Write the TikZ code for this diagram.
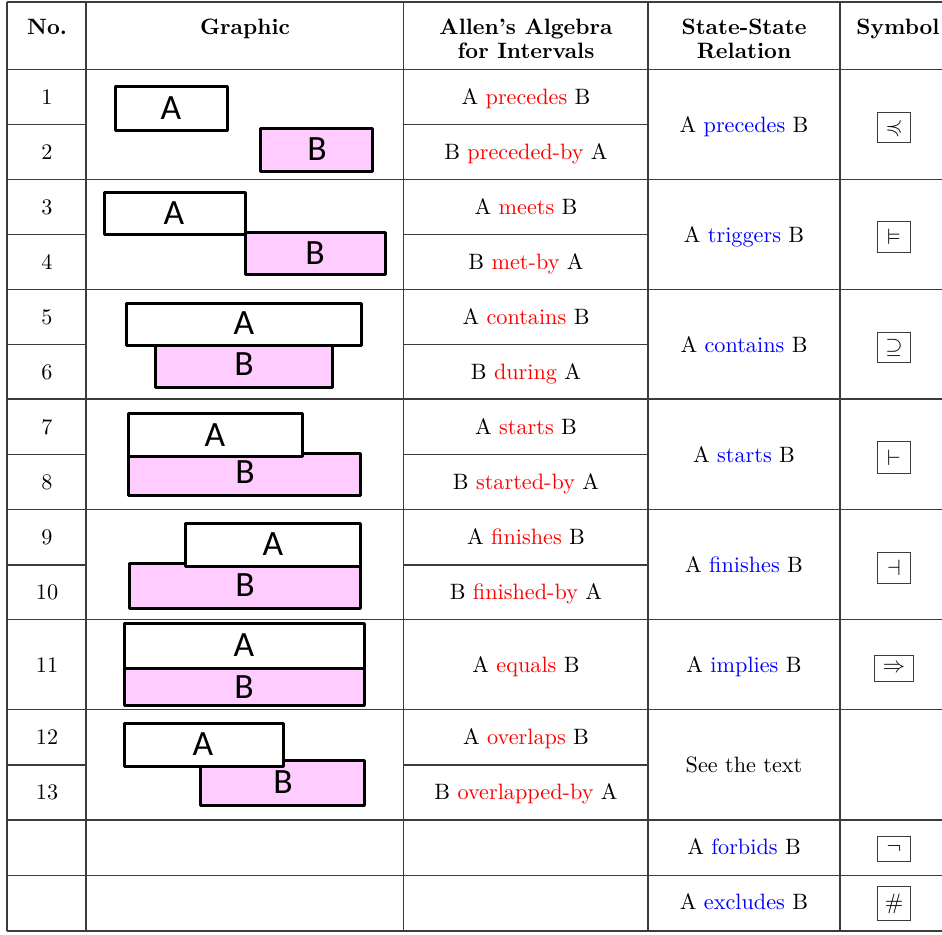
\documentclass[tikz,border=0pt]{standalone}
\usepackage{amssymb}
\usepackage{fontspec}
\usetikzlibrary{fit}
\newfontfamily\carlito{Carlito}
\definecolor{pinkB}{RGB}{255,204,255}
\definecolor{gridc}{RGB}{60,60,60}
\newcommand\rr[1]{\textcolor{red}{#1}}
\newcommand\bb[1]{\textcolor{blue}{#1}}
\begin{document}
\begin{tikzpicture}[x=0.45pt,y=-0.45pt,
  txt/.style={anchor=base, inner sep=0pt},
  hdr/.style={anchor=base, inner sep=0pt, font=\bfseries},
  ibox/.style={draw=black, line width=1.35pt, inner sep=0pt, line join=round},
  boxa/.style={ibox, fill=white},
  boxb/.style={ibox, fill=pinkB},
  lab/.style={inner sep=0pt, font=\carlito\fontsize{16}{16}\selectfont},
  sym/.style={draw=gridc, line width=0.5pt, inner sep=0pt, minimum width=15pt},
  grid/.style={draw=gridc, line width=0.5pt}]
\useasboundingbox (0,0) rectangle (942,934);
\clip (0,0) rectangle (942,934);
\fill[white] (0,0) rectangle (942,934);
% grid
\foreach \xx in {7,86,403.5,648,840} \draw[grid] (\xx,2) -- (\xx,931);
\foreach \yy in {2,69.5,179.5,289.5,399,509.5,619.5,709.5,820,875.5,931} \draw[grid] (7,\yy) -- (950,\yy);
\foreach \yy in {124.5,234.5,344.5,454.5,565,765} {
  \draw[grid] (7,\yy) -- (86,\yy);
  \draw[grid] (403.5,\yy) -- (648,\yy);
}
% header
\node[hdr] (hno) at (47,34.5) {No.};
\node[hdr] (hgr) at (245,34.5) {Graphic};
\node[hdr] (hal1) at (526,34.5) {Allen’s Algebra};
\node[hdr] (hal2) at (526,58.5) {for Intervals};
\node[hdr] (hss1) at (744,34.5) {State-State};
\node[hdr] (hss2) at (744,58.5) {Relation};
\node[hdr] (hsy) at (898,34.5) {Symbol};
% numbers
\node[txt] (n1) at (47,104) {1};
\node[txt] (n2) at (47,159) {2};
\node[txt] (n3) at (47,214) {3};
\node[txt] (n4) at (47,269) {4};
\node[txt] (n5) at (47,324) {5};
\node[txt] (n6) at (47,379) {6};
\node[txt] (n7) at (47,434) {7};
\node[txt] (n8) at (47,489) {8};
\node[txt] (n9) at (47,544) {9};
\node[txt] (n10) at (47,599) {10};
\node[txt] (n11) at (47,672) {11};
\node[txt] (n12) at (47,744) {12};
\node[txt] (n13) at (47,799) {13};
% Allen
\node[txt] (al1) at (526,104) {A \rr{precedes} B};
\node[txt] (al2) at (526,159) {B \rr{preceded-by} A};
\node[txt] (al3) at (526,214) {A \rr{meets} B};
\node[txt] (al4) at (526,269) {B \rr{met-by} A};
\node[txt] (al5) at (526,324) {A \rr{contains} B};
\node[txt] (al6) at (526,379) {B \rr{during} A};
\node[txt] (al7) at (526,434) {A \rr{starts} B};
\node[txt] (al8) at (526,489) {B \rr{started-by} A};
\node[txt] (al9) at (526,544) {A \rr{finishes} B};
\node[txt] (al10) at (526,599) {B \rr{finished-by} A};
\node[txt] (al11) at (526,672) {A \rr{equals} B};
\node[txt] (al12) at (526,744) {A \rr{overlaps} B};
\node[txt] (al13) at (526,799) {B \rr{overlapped-by} A};
% State-state
\node[txt] (ss1) at (744,132) {A \bb{precedes} B};
\node[txt] (ss2) at (744,242) {A \bb{triggers} B};
\node[txt] (ss3) at (744,352) {A \bb{contains} B};
\node[txt] (ss4) at (744,462) {A \bb{starts} B};
\node[txt] (ss5) at (744,572) {A \bb{finishes} B};
\node[txt] (ss6) at (744,672) {A \bb{implies} B};
\node[txt] (ss7) at (744,772) {See the text};
\node[txt] (ss8) at (744,854) {A \bb{forbids} B};
\node[txt] (ss9) at (744,909) {A \bb{excludes} B};
% symbols
\node[sym, minimum height=13.5pt] (s1) at (894,127.5) {$\preccurlyeq$};
\node[sym, minimum height=13.9pt] (s2) at (894,237) {$\vDash$};
\node[sym, minimum height=13.5pt] (s3) at (894,347.5) {$\supseteq$};
\node[sym, minimum height=14.4pt] (s4) at (894,457.5) {$\vdash$};
\node[sym, minimum height=14.2pt] (s5) at (894,568) {$\dashv$};
\node[sym, minimum height=11.7pt, minimum width=17.6pt] (s6) at (894,668.7) {$\Rightarrow$};
\node[sym, minimum height=11.3pt] (s7) at (894,849) {$\neg$};
\node[sym, minimum height=15.3pt] (s8) at (894,903.5) {$\#$};
% graphics: B boxes
\node[boxb, fit={(260.5,128.5) (372.5,171.5)}] (b1) {};
\node[boxb, fit={(245,232.5) (385.5,274.5)}] (b3) {};
\node[boxb, fit={(155.5,345.5) (332.5,387.5)}] (b5) {};
\node[boxb, fit={(128.5,453.5) (360.5,495.5)}] (b7) {};
\node[boxb, fit={(129.5,563.5) (360.5,608.5)}] (b9) {};
\node[boxb, fit={(124.5,668) (364.5,705.5)}] (b11) {};
\node[boxb, fit={(200.5,760.5) (364.5,805.5)}] (b12) {};
% A boxes
\node[boxa, fit={(115.5,86.5) (227.5,130.5)}] (a1) {};
\node[boxa, fit={(104.5,192.5) (245,234.5)}] (a3) {};
\node[boxa, fit={(126.5,303.5) (361.5,345.5)}] (a5) {};
\node[boxa, fit={(128.5,413.5) (302.5,456.5)}] (a7) {};
\node[boxa, fit={(185.5,523.5) (360.5,566.5)}] (a9) {};
\node[boxa, fit={(124.5,623.5) (364.5,668)}] (a11) {};
\node[boxa, fit={(124.5,723.5) (283.5,766.5)}] (a12) {};
% labels
\node[lab] (la1) at (171,108) {A};
\node[lab] (lb1) at (317,149.5) {B};
\node[lab] (la3) at (174,213) {A};
\node[lab] (lb3) at (315,253) {B};
\node[lab] (la5) at (244,323) {A};
\node[lab] (lb5) at (244,364) {B};
\node[lab] (la7) at (215,435) {A};
\node[lab] (lb7) at (245,472) {B};
\node[lab] (la9) at (273,544) {A};
\node[lab] (lb9) at (245,585) {B};
\node[lab] (la11) at (244,645) {A};
\node[lab] (lb11) at (244,687) {B};
\node[lab] (la12) at (203,744) {A};
\node[lab] (lb12) at (283,782) {B};
\end{tikzpicture}
\end{document}
